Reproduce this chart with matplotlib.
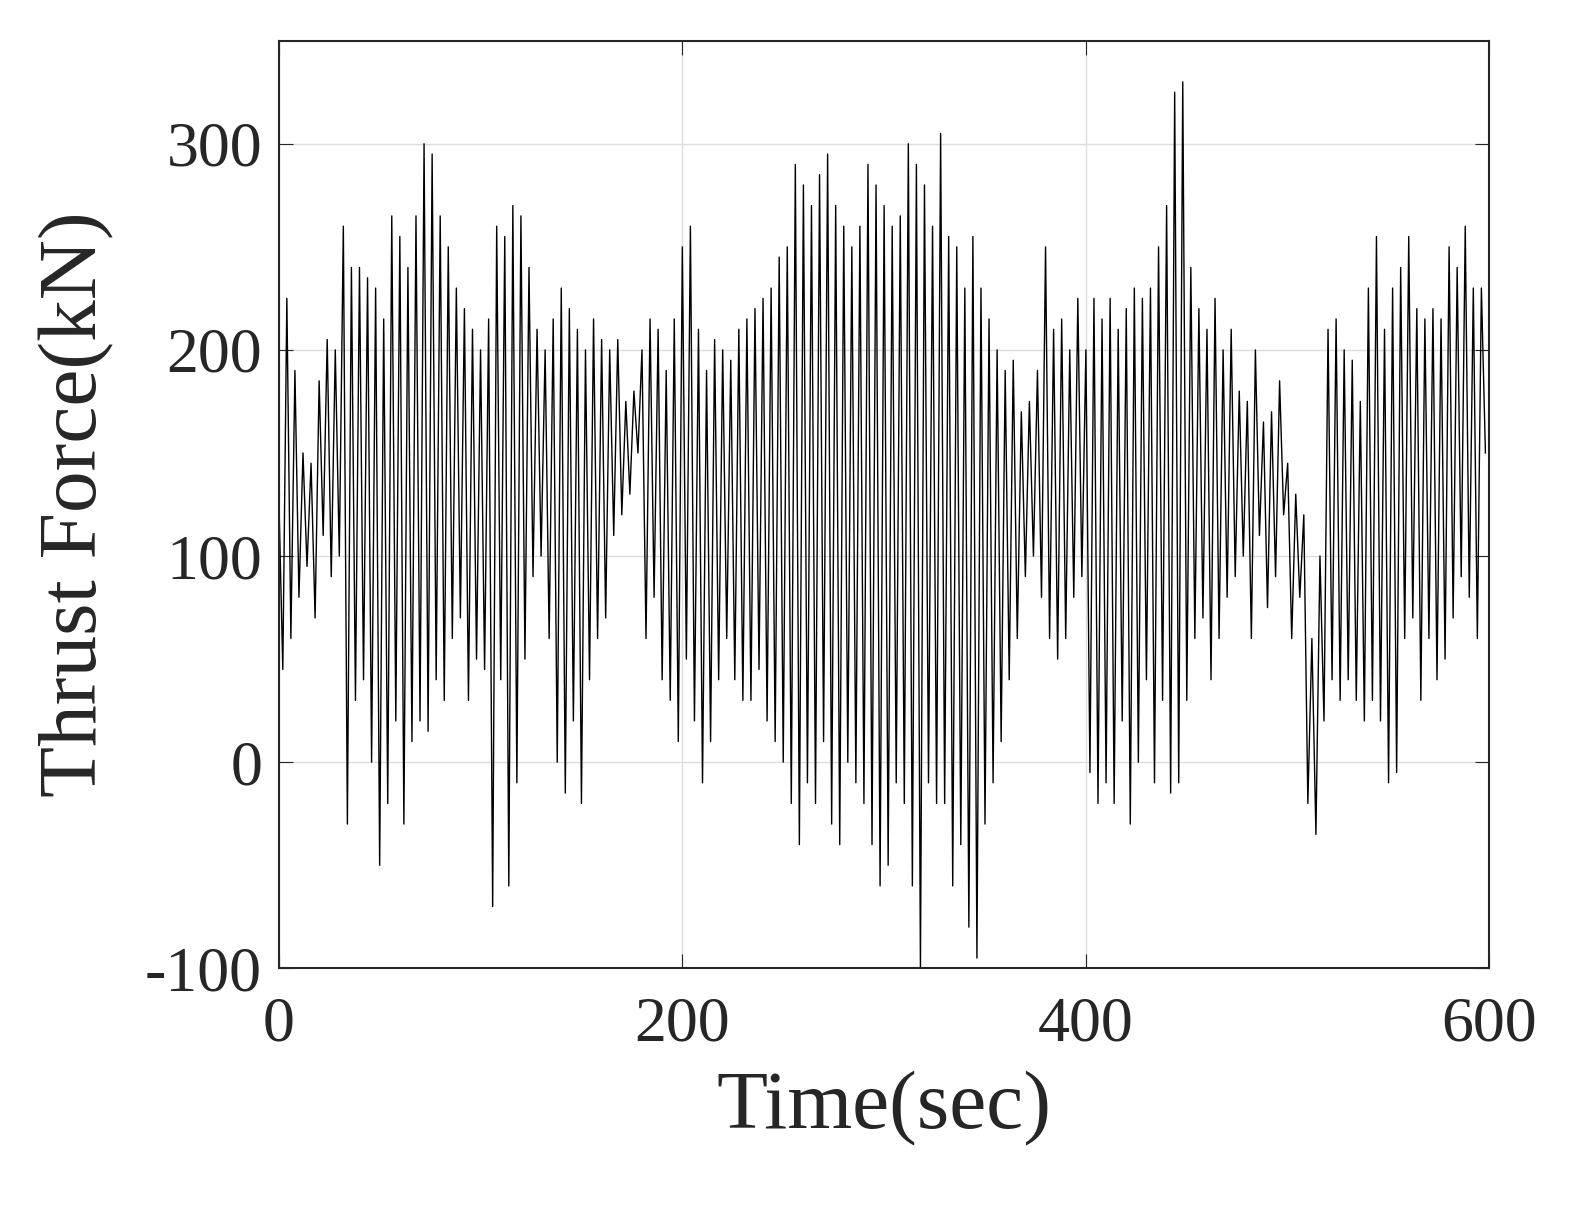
import numpy as np
import matplotlib
matplotlib.use("Agg")
import matplotlib.pyplot as plt

force_kN = [
130,45,225,60,190,80,150,95,145,70,
185,110,205,90,200,100,260,-30,240,30,
240,40,235,0,230,-50,215,-20,265,20,
255,-30,240,10,265,20,300,15,295,40,
265,30,250,60,230,70,220,30,210,50,
200,45,215,-70,260,40,255,-60,270,-10,
265,50,240,90,210,100,200,60,215,0,
230,-15,220,20,210,-20,200,40,215,60,
205,70,200,110,205,120,175,130,180,150,
200,60,215,80,210,40,190,30,215,10,
250,50,260,20,210,-10,190,10,205,40,
200,60,195,40,210,30,215,30,220,45,
225,20,230,10,245,0,250,-20,290,-40,
280,-10,270,-20,285,10,295,-30,270,-40,
260,0,250,-10,260,-20,290,-40,280,-60,
270,-50,260,-10,265,-20,300,-60,290,-100,
280,-10,260,-20,305,-20,255,-60,250,-40,
230,-80,255,-95,230,-30,215,-10,200,10,
190,40,195,60,170,90,175,100,190,80,
250,60,210,50,215,60,200,80,225,90,
200,-5,225,-20,215,-10,225,-20,210,20,
220,-30,230,0,225,40,230,-10,250,30,
270,-15,325,-10,330,30,240,60,220,70,
210,40,225,60,200,80,210,90,180,100,
175,60,200,110,165,75,170,90,185,120,
145,60,130,80,120,-20,60,-35,100,20,
210,40,215,30,200,40,195,30,175,20,
230,30,255,20,210,-10,230,-5,240,60,
255,70,220,30,215,60,220,40,215,50,
250,70,240,90,260,80,230,60,230,150,
]
time_s = np.arange(len(force_kN)) * 2.0

plt.rcParams['font.family'] = ['Liberation Serif', 'DejaVu Serif']
plt.rcParams['axes.unicode_minus'] = False
fig = plt.figure(figsize=(15.93, 12.32), dpi=100)
ax = fig.add_axes([0.175, 0.214, 0.76, 0.753])
ax.plot(time_s, force_kN, color='black', lw=1.0)
ax.set_xlim(0, 600)
ax.set_ylim(-100, 350)
ax.set_xticks([0, 200, 400, 600])
ax.set_yticks([-100, 0, 100, 200, 300])
ax.grid(True, color='#dddddd', lw=1)
ax.tick_params(direction='in', top=True, right=True, length=10, labelsize=46, colors='#262626', pad=12)
ax.tick_params(axis='x', pad=20)
for s in ax.spines.values():
    s.set_linewidth(1.5); s.set_color('#262626')
ax.set_xlabel('Time(sec)', fontsize=60, color='#262626', labelpad=12)
ax.set_ylabel('Thrust Force(kN)', fontsize=60, color='#262626', labelpad=22)
fig.savefig('out.png', dpi=100)
